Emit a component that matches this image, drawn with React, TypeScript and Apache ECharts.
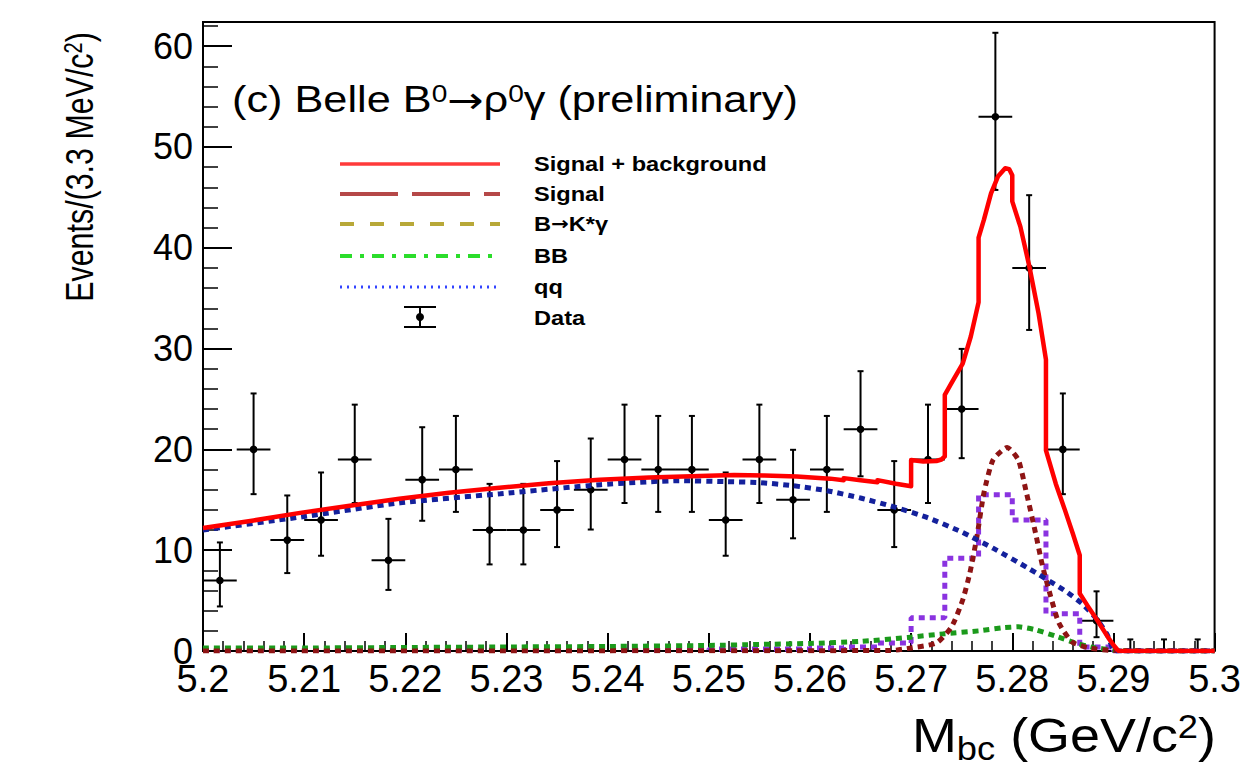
import React, { useEffect, useRef } from "react";
import * as echarts from "echarts";

const FONT = '"Liberation Sans", Arial, Helvetica, sans-serif';
const ARROW_FONT = '"DejaVu Sans", sans-serif';

// Data points (M_bc bin centres, GeV/c^2) with asymmetric errors
const binCenters = [
  5.20167, 5.205, 5.20833, 5.21167, 5.215, 5.21833, 5.22167, 5.225, 5.22833, 5.23167,
  5.235, 5.23833, 5.24167, 5.245, 5.24833, 5.25167, 5.255, 5.25833, 5.26167, 5.265,
  5.26833, 5.27167, 5.275, 5.27833, 5.28167, 5.285, 5.28833, 5.29167, 5.295, 5.29833,
];
const counts = [7, 20, 11, 13, 19, 9, 17, 18, 12, 12, 14, 16, 19, 18, 18, 13, 19, 15, 18, 22, 14, 19, 24, 53, 38, 20, 3, 0, 0, 0];
const errLow = [
  2.58, 4.44, 3.27, 3.55, 4.32, 2.94, 4.08, 4.2, 3.41, 3.41,
  3.69, 3.95, 4.32, 4.2, 4.2, 3.55, 4.32, 3.82, 4.2, 4.67,
  3.69, 4.32, 4.87, 7.26, 6.15, 4.44, 1.63, 0, 0, 0,
];
const errHigh = [
  3.77, 5.55, 4.43, 4.71, 5.44, 4.11, 5.2, 5.32, 4.58, 4.58,
  4.84, 5.08, 5.44, 5.32, 5.32, 4.71, 5.44, 4.96, 5.32, 5.76,
  4.84, 5.44, 5.97, 8.33, 7.22, 5.55, 2.92, 1.15, 1.15, 1.15,
];
const BIN_HALF = 0.0016667;

// B -> K* gamma (purple histogram)
const histEdges = [
  5.2, 5.20333, 5.20667, 5.21, 5.21333, 5.21667, 5.22, 5.22333, 5.22667, 5.23,
  5.23333, 5.23667, 5.24, 5.24333, 5.24667, 5.25, 5.25333, 5.25667, 5.26, 5.26333,
  5.26667, 5.27, 5.27333, 5.27667, 5.28, 5.28333, 5.28667, 5.29, 5.29333, 5.29667, 5.3,
];
const kstarHist = [
  0.1, 0.1, 0.1, 0.1, 0.1, 0.1, 0.1, 0.1, 0.1, 0.1,
  0.1, 0.1, 0.1, 0.1, 0.1, 0.2, 0.2, 0.2, 0.3, 0.4,
  0.8, 3.3, 9.2, 15.5, 13.0, 3.7, 0.4, 0, 0, 0,
];

// q qbar continuum (blue dotted)
const qqX = [5.2, 5.2097, 5.2195, 5.2294, 5.2393, 5.2471, 5.2517, 5.2551, 5.2583, 5.2617, 5.2651, 5.2683, 5.2717, 5.275, 5.2781, 5.2816, 5.2851, 5.2869, 5.2884, 5.2894, 5.2899, 5.2902, 5.3];
const qqY = [12.0, 13.3, 14.7, 15.6, 16.5, 16.9, 16.8, 16.7, 16.4, 15.9, 15.15, 14.3, 13.2, 11.8, 10.2, 8.2, 6.05, 4.7, 3.1, 1.6, 0.3, 0, 0];

// B Bbar background (green dotted)
const bbX = [5.2, 5.21, 5.22, 5.23, 5.24, 5.25, 5.255, 5.26, 5.265, 5.2697, 5.2732, 5.2767, 5.279, 5.2806, 5.2823, 5.2845, 5.2862, 5.288, 5.29, 5.292, 5.3];
const bbY = [0.3, 0.3, 0.35, 0.4, 0.45, 0.55, 0.65, 0.75, 0.95, 1.35, 1.7, 2.0, 2.3, 2.4, 2.1, 1.4, 0.8, 0.35, 0.1, 0, 0];

// Signal (dark red dotted)
const sigX = [5.2, 5.268, 5.27, 5.2725, 5.274, 5.2751, 5.2758, 5.2765, 5.2772, 5.2781, 5.2795, 5.2806, 5.2814, 5.2823, 5.283, 5.2838, 5.2846, 5.2859, 5.2876, 5.29, 5.3];
const sigY = [0, 0.05, 0.3, 0.8, 2.4, 5.06, 7.7, 11.3, 15.7, 18.95, 20.2, 18.95, 15.7, 11.7, 8.4, 5.4, 2.8, 0.9, 0.3, 0.05, 0];

// Signal + background (red solid)
const totX = [
  5.2, 5.205, 5.2096, 5.2145, 5.2194, 5.2243, 5.2293, 5.2342, 5.2392, 5.2441,
  5.2491, 5.2525, 5.2555, 5.2587, 5.262, 5.26333, 5.26333, 5.265, 5.26667, 5.26667,
  5.2685, 5.27, 5.27, 5.2712, 5.2725, 5.273, 5.27333, 5.27333, 5.274, 5.2751,
  5.2759, 5.27667, 5.27667, 5.2772, 5.2779, 5.2786, 5.2793, 5.2797, 5.28, 5.28,
  5.2808, 5.2817, 5.2826, 5.28333, 5.28333, 5.2843, 5.2852, 5.286, 5.28667, 5.28667,
  5.2875, 5.2885, 5.2895, 5.29, 5.2905, 5.3,
];
const totY = [
  12.2, 12.95, 13.7, 14.4, 15.1, 15.7, 16.2, 16.65, 17.0, 17.2,
  17.35, 17.45, 17.4, 17.3, 17.1, 16.95, 17.15, 16.95, 16.75, 16.95,
  16.6, 16.35, 18.95, 18.8, 18.85, 19.0, 19.3, 25.4, 26.6, 28.5,
  31.2, 34.6, 41.0, 42.8, 45.4, 47.1, 47.9, 47.8, 47.2, 44.6,
  42.1, 38.1, 33.5, 28.9, 19.9, 16.6, 14.0, 11.6, 9.5, 5.7,
  4.4, 2.9, 1.3, 0.6, 0, 0,
];

const xTicks = { min: 5.2, max: 5.3, interval: 0.01 };
const yTicks = { min: 0, max: 62.4, interval: 10 };

const legendRows = [
  { label: "Signal + background", color: "#ff3a3a", dash: null as number[] | null, width: 3.5 },
  { label: "Signal", color: "#b54848", dash: [58, 14], width: 4 },
  { label: "B{arr|\u2192}K*\u03b3", color: "#b8a838", dash: [14, 16], width: 4 },
  { label: "BB", color: "#2bdd2b", dash: [12, 8, 4, 8], width: 4 },
  { label: "qq", color: "#3344ff", dash: [2, 5], width: 3 },
];
const legendY = [164, 194, 224, 256, 287];

function zip(xs: number[], ys: number[]) {
  return xs.map((x, i) => [x, ys[i]]);
}

export default function App() {
  const ref = useRef<HTMLDivElement>(null);
  useEffect(() => {
    if (!ref.current) return;
    const chart = echarts.init(ref.current, null, { renderer: "svg" });

    const histData = histEdges.map((e, i) => [e, i < kstarHist.length ? kstarHist[i] : kstarHist[kstarHist.length - 1]]);
    const pointData = binCenters.map((x, i) => [x, counts[i], errLow[i], errHigh[i]]);

    const graphics: any[] = [];
    // title
    graphics.push({
      type: "text",
      x: 232,
      y: 100,
      scaleX: 1.17,
      style: {
        text: "(c) Belle B{sup|0}{arr|\u2192}\u03c1{sup|0}\u03b3 (preliminary)",
        font: `37px ${FONT}`,
        fill: "#000",
        align: "left",
        verticalAlign: "middle",
        rich: {
          sup: { fontSize: 24, fontFamily: FONT, verticalAlign: "top", lineHeight: 22 },
          arr: { fontSize: 37, fontFamily: ARROW_FONT },
        },
      },
    });
    // legend
    legendRows.forEach((r, i) => {
      graphics.push({
        type: "line",
        shape: { x1: 340, y1: legendY[i], x2: 500, y2: legendY[i] },
        style: { stroke: r.color, lineWidth: r.width, lineDash: r.dash || undefined },
      });
      graphics.push({
        type: "text",
        x: 534,
        y: legendY[i],
        scaleX: 1.18,
        style: {
          text: r.label,
          font: `bold 20px ${FONT}`,
          fill: "#000",
          verticalAlign: "middle",
          align: "left",
          rich: { arr: { fontSize: 18, fontFamily: ARROW_FONT, fontWeight: "bold" } },
        },
      });
    });
    // data legend icon
    graphics.push(
      { type: "line", shape: { x1: 404, y1: 307, x2: 436, y2: 307 }, style: { stroke: "#000", lineWidth: 2 } },
      { type: "line", shape: { x1: 404, y1: 327, x2: 436, y2: 327 }, style: { stroke: "#000", lineWidth: 2 } },
      { type: "line", shape: { x1: 420, y1: 307, x2: 420, y2: 327 }, style: { stroke: "#000", lineWidth: 2 } },
      { type: "circle", shape: { cx: 420, cy: 317, r: 4 }, style: { fill: "#000" } },
      {
        type: "text",
        x: 534,
        y: 318,
        scaleX: 1.18,
        style: { text: "Data", font: `bold 20px ${FONT}`, fill: "#000", verticalAlign: "middle" },
      }
    );
    // y axis title
    graphics.push({
      type: "text",
      x: 80,
      y: 167,
      rotation: Math.PI / 2,
      scaleX: 0.8,
      style: {
        text: "Events/(3.3 MeV/c{sup|2})",
        font: `38px ${FONT}`,
        fill: "#000",
        align: "center",
        verticalAlign: "middle",
        rich: { sup: { fontSize: 25, fontFamily: FONT, verticalAlign: "top", lineHeight: 22 } },
      },
    });
    // x axis title
    graphics.push({
      type: "text",
      x: 1216,
      y: 735,
      scaleX: 1.1,
      style: {
        text: "M{sub|bc} (GeV/c{sup|2})",
        font: `49px ${FONT}`,
        fill: "#000",
        align: "right",
        verticalAlign: "middle",
        rich: {
          sub: { fontSize: 33, fontFamily: FONT, verticalAlign: "bottom", lineHeight: 33, padding: [0, 0, -6, 0] },
          sup: { fontSize: 33, fontFamily: FONT, verticalAlign: "top", lineHeight: 30 },
        },
      },
    });

    const dotted = (color: string) => ({ color, width: 5, type: [6, 5] as number[] });

    chart.setOption({
      animation: false,
      backgroundColor: "#fff",
      grid: { left: 203, right: 28, top: 22, bottom: 116, show: true, borderColor: "#000", borderWidth: 2, backgroundColor: "transparent" },
      xAxis: {
        type: "value",
        min: xTicks.min,
        max: xTicks.max,
        interval: xTicks.interval,
        axisLine: { lineStyle: { color: "#000", width: 2 } },
        axisTick: { inside: true, length: 18, lineStyle: { color: "#000", width: 2 } },
        minorTick: { show: true, splitNumber: 5, length: 10, lineStyle: { color: "#000", width: 1.5 } },
        splitLine: { show: false },
        axisLabel: {
          interval: 0,
          margin: 13,
          lineHeight: 30,
          color: "#000",
          fontSize: 38,
          fontFamily: FONT,
          formatter: (v: number) => parseFloat(v.toFixed(3)).toString(),
        },
      },
      yAxis: {
        type: "value",
        min: yTicks.min,
        max: yTicks.max,
        interval: yTicks.interval,
        axisLine: { lineStyle: { color: "#000", width: 2 } },
        axisTick: { inside: true, length: 29, lineStyle: { color: "#000", width: 2 } },
        minorTick: { show: true, splitNumber: 5, length: 15, lineStyle: { color: "#000", width: 1.5 } },
        splitLine: { show: false },
        axisLabel: {
          margin: 10,
          lineHeight: 26,
          color: "#000",
          fontSize: 36,
          fontFamily: FONT,
          showMaxLabel: false,
          formatter: (v: number) => (Math.abs(v % 10) < 1e-6 ? String(Math.round(v)) : ""),
        },
      },
      graphic: graphics,
      series: [
        {
          type: "custom",
          name: "Data",
          z: 2,
          data: pointData,
          encode: { x: 0, y: 1 },
          renderItem: (params: any, api: any) => {
            const x = api.value(0);
            const y = api.value(1);
            const lo = api.value(2);
            const hi = api.value(3);
            const c = api.coord([x, y]);
            const pl = api.coord([x - BIN_HALF, y]);
            const pr = api.coord([x + BIN_HALF, y]);
            const plo = api.coord([x, y - lo]);
            const phi = api.coord([x, y + hi]);
            const st = { stroke: "#000", lineWidth: 2 };
            const children: any[] = [
              { type: "line", shape: { x1: c[0], y1: plo[1], x2: c[0], y2: phi[1] }, style: st },
              { type: "line", shape: { x1: pl[0], y1: c[1], x2: pr[0], y2: c[1] }, style: st },
              { type: "line", shape: { x1: c[0] - 3, y1: phi[1], x2: c[0] + 3, y2: phi[1] }, style: st },
            ];
            if (lo > 0) {
              children.push({ type: "line", shape: { x1: c[0] - 3, y1: plo[1], x2: c[0] + 3, y2: plo[1] }, style: st });
            }
            if (y > 0) {
              children.push({ type: "circle", shape: { cx: c[0], cy: c[1], r: 3.8 }, style: { fill: "#000" } });
            }
            return { type: "group", children };
          },
        },
        {
          type: "line",
          name: "B->K*gamma",
          step: "end",
          z: 3,
          showSymbol: false,
          data: histData,
          lineStyle: dotted("#8a33e0"),
        },
        {
          type: "line",
          name: "BB",
          z: 4,
          smooth: 0.2,
          showSymbol: false,
          data: zip(bbX, bbY),
          lineStyle: dotted("#1b9a1b"),
        },
        {
          type: "line",
          name: "Signal",
          z: 5,
          smooth: 0.2,
          showSymbol: false,
          data: zip(sigX, sigY),
          lineStyle: dotted("#8e1414"),
        },
        {
          type: "line",
          name: "qq",
          z: 6,
          smooth: 0.2,
          showSymbol: false,
          data: zip(qqX, qqY),
          lineStyle: dotted("#14219c"),
        },
        {
          type: "line",
          name: "Signal + background",
          z: 7,
          showSymbol: false,
          data: zip(totX, totY),
          lineStyle: { color: "#ff0000", width: 4.5, join: "round" },
        },
      ],
    });
    return () => chart.dispose();
  }, []);

  return (
    <div
      ref={ref}
      style={{ position: "fixed", left: 0, top: 0, width: 1244, height: 767, background: "#fff" }}
    />
  );
}
